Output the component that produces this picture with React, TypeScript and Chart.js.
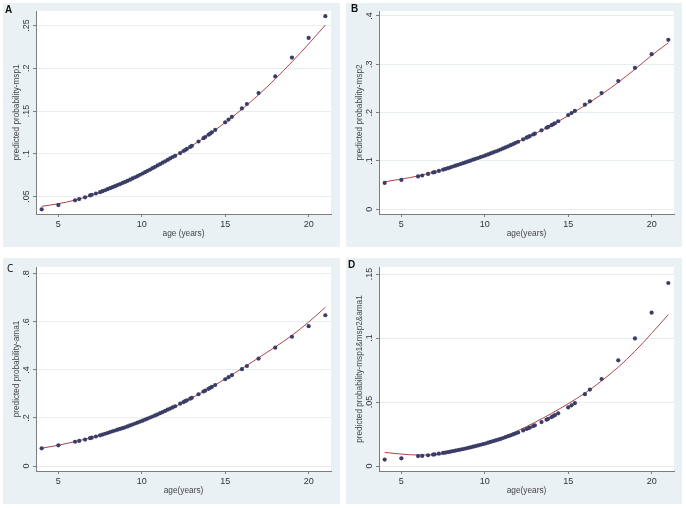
import React, { useEffect, useRef } from 'react';
import { Chart, registerables } from 'chart.js';
Chart.register(...registerables);

// ---------- data ----------
const ages = [4, 5, 6, 6.25, 6.6, 6.9, 7, 7.25, 7.5, 7.65, 7.8, 7.95, 8.1, 8.25, 8.4, 8.55, 8.7, 8.85, 9, 9.15, 9.3, 9.45, 9.6, 9.75, 9.9, 10.05, 10.2, 10.35, 10.5, 10.65, 10.8, 10.95, 11.1, 11.25, 11.4, 11.55, 11.7, 11.85, 12, 12.3, 12.5, 12.6, 12.7, 12.9, 13, 13.4, 13.7, 13.8, 14, 14.1, 14.2, 14.4, 15, 15.2, 15.4, 16, 16.3, 17, 18, 19, 20, 21];

const probMsp1 = [0.035, 0.040, 0.0455, 0.047, 0.049, 0.0512, 0.052, 0.0535, 0.055, 0.0562, 0.0573, 0.0585, 0.0597, 0.0609, 0.0621, 0.0633, 0.0645, 0.0658, 0.0670, 0.0683, 0.0697, 0.0711, 0.0725, 0.0739, 0.0754, 0.0769, 0.0784, 0.0800, 0.0815, 0.0831, 0.0847, 0.0863, 0.0879, 0.0895, 0.0911, 0.0928, 0.0945, 0.0962, 0.0976, 0.1008, 0.1032, 0.1044, 0.1056, 0.1080, 0.1092, 0.1143, 0.1182, 0.1196, 0.1222, 0.1236, 0.1250, 0.1279, 0.1368, 0.1400, 0.1432, 0.1530, 0.1582, 0.1710, 0.1905, 0.2125, 0.2355, 0.2610];

const probMsp2 = [0.0545, 0.0607, 0.0680, 0.0700, 0.0733, 0.0762, 0.0770, 0.0795, 0.0820, 0.0836, 0.0852, 0.0869, 0.0886, 0.0903, 0.0920, 0.0937, 0.0955, 0.0972, 0.0990, 0.1008, 0.1026, 0.1044, 0.1062, 0.1080, 0.1098, 0.1116, 0.1136, 0.1156, 0.1176, 0.1196, 0.1216, 0.1238, 0.1260, 0.1282, 0.1304, 0.1326, 0.1349, 0.1375, 0.1398, 0.1449, 0.1482, 0.1498, 0.1515, 0.1548, 0.1565, 0.1635, 0.1687, 0.1705, 0.1740, 0.1760, 0.1781, 0.1822, 0.1950, 0.1993, 0.2036, 0.2165, 0.2235, 0.2405, 0.2655, 0.2925, 0.3210, 0.3506];

const probAma1 = [0.0736, 0.0860, 0.1010, 0.1045, 0.1100, 0.1160, 0.1180, 0.1230, 0.1280, 0.1311, 0.1343, 0.1375, 0.1415, 0.1448, 0.1480, 0.1513, 0.1545, 0.1578, 0.1610, 0.1650, 0.1690, 0.1730, 0.1770, 0.1810, 0.1850, 0.1890, 0.1933, 0.1977, 0.2020, 0.2063, 0.2107, 0.2150, 0.2200, 0.2248, 0.2296, 0.2345, 0.2394, 0.2442, 0.2490, 0.2595, 0.2665, 0.2700, 0.2735, 0.2805, 0.2840, 0.2990, 0.3103, 0.3140, 0.3215, 0.3255, 0.3295, 0.3375, 0.3615, 0.3699, 0.3783, 0.4035, 0.4167, 0.4475, 0.4930, 0.5385, 0.5825, 0.6280];

const probAll = [0.0050, 0.0060, 0.0078, 0.0079, 0.0084, 0.0089, 0.0091, 0.0096, 0.0102, 0.0105, 0.0109, 0.0113, 0.0117, 0.0121, 0.0125, 0.0129, 0.0133, 0.0137, 0.0142, 0.0146, 0.0151, 0.0156, 0.0161, 0.0166, 0.0171, 0.0176, 0.0182, 0.0188, 0.0194, 0.0200, 0.0206, 0.0212, 0.0219, 0.0226, 0.0233, 0.0240, 0.0247, 0.0254, 0.0262, 0.0278, 0.0289, 0.0295, 0.0300, 0.0312, 0.0318, 0.0343, 0.0362, 0.0369, 0.0382, 0.0390, 0.0397, 0.0412, 0.0458, 0.0474, 0.0491, 0.0561, 0.0597, 0.0680, 0.0826, 0.0997, 0.1198, 0.1430];

const fitAges = [4, 5, 6, 7, 8, 9, 10, 11, 12, 13, 14, 15, 16, 17, 18, 19, 20, 21];
const fitMsp1 = [0.0385, 0.0415, 0.0458, 0.0515, 0.0585, 0.0668, 0.0765, 0.0870, 0.0978, 0.1093, 0.1222, 0.1365, 0.1520, 0.1690, 0.1875, 0.2075, 0.2285, 0.2505];
const fitMsp2 = [0.0570, 0.0625, 0.0690, 0.0775, 0.0878, 0.0990, 0.1112, 0.1248, 0.1398, 0.1565, 0.1740, 0.1938, 0.2148, 0.2378, 0.2628, 0.2898, 0.3185, 0.3445];
const fitAma1 = [0.0740, 0.0865, 0.1015, 0.1185, 0.1385, 0.1610, 0.1865, 0.2155, 0.2480, 0.2835, 0.3215, 0.3625, 0.4060, 0.4505, 0.4960, 0.5440, 0.5995, 0.6610];
const fitAll = [0.0107, 0.0093, 0.0086, 0.0089, 0.0104, 0.0133, 0.0172, 0.0220, 0.0277, 0.0341, 0.0411, 0.0487, 0.0569, 0.0665, 0.0773, 0.0897, 0.1037, 0.1183];

const xTicks = [5, 10, 15, 20];
const yTicksA = [0.05, 0.1, 0.15, 0.2, 0.25];
const yTicksB = [0, 0.1, 0.2, 0.3, 0.4];
const yTicksC = [0, 0.2, 0.4, 0.6, 0.8];
const yTicksD = [0, 0.05, 0.1, 0.15];

// ---------- styles ----------
const FONT = "'Liberation Sans', Arial, sans-serif";
const PANEL_BG = '#eaf1f4';
const GRID = '#e6eef1';
const AXIS = '#7d7d7d';
const TICK = '#333333';
const TITLE = '#444444';
const DOT = '#3b3d66';
const LINE = '#ad444c';

const fmt = (v: number) => (v === 0 ? '0' : String(v).replace(/^0\./, '.'));

type PanelCfg = {
  letter: string; letterX: number; letterY: number; letterFont: string;
  left: number; top: number; w: number; h: number; padTop: number; padRight: number;
  yMin: number; yMax: number; yTicks: number[]; yPad: number;
  dots: number[]; fit: number[]; yTitle: string; xTitle: string;
};

const panels: PanelCfg[] = [
  { letter: 'A', letterX: 2, letterY: 7, letterFont: `bold 10px ${FONT}`, left: 3, top: 3, w: 337, h: 244, padTop: 8, padRight: 9,
    yMin: 0.0295, yMax: 0.267, yTicks: yTicksA, yPad: 0, dots: probMsp1, fit: fitMsp1,
    yTitle: 'predicted probability-msp1', xTitle: 'age (years)' },
  { letter: 'B', letterX: 5, letterY: 6, letterFont: `bold 10px ${FONT}`, left: 346, top: 3, w: 336, h: 244, padTop: 8, padRight: 8,
    yMin: -0.0097, yMax: 0.4103, yTicks: yTicksB, yPad: 2.25, dots: probMsp2, fit: fitMsp2,
    yTitle: 'predicted probability-msp2', xTitle: 'age(years)' },
  { letter: 'C', letterX: 4, letterY: 11, letterFont: `10px 'Noto Sans', sans-serif`, left: 3, top: 258, w: 337, h: 246, padTop: 9, padRight: 9,
    yMin: -0.0208, yMax: 0.829, yTicks: yTicksC, yPad: 2.25, dots: probAma1, fit: fitAma1,
    yTitle: 'predicted probability-ama1', xTitle: 'age(years)' },
  { letter: 'D', letterX: 2, letterY: 7, letterFont: `bold 10px ${FONT}`, left: 346, top: 258, w: 336, h: 246, padTop: 9, padRight: 8,
    yMin: -0.0039, yMax: 0.1555, yTicks: yTicksD, yPad: 0, dots: probAll, fit: fitAll,
    yTitle: 'predicted probability-msp1&msp2&ama1', xTitle: 'age(years)' },
];

function Panel({ p }: { p: PanelCfg }) {
  const ref = useRef<HTMLCanvasElement>(null);
  useEffect(() => {
    const panelPlugin = {
      id: 'panelDecor',
      beforeDraw(chart: any) {
        const { ctx, chartArea: a, width, height } = chart;
        ctx.save();
        ctx.fillStyle = PANEL_BG;
        ctx.fillRect(0, 0, width, height);
        ctx.fillStyle = '#ffffff';
        ctx.fillRect(a.left, a.top, a.right - a.left, a.bottom - a.top);
        ctx.restore();
      },
      afterDraw(chart: any) {
        const { ctx } = chart;
        ctx.save();
        ctx.font = p.letterFont;
        ctx.fillStyle = '#111';
        ctx.textAlign = 'left';
        ctx.textBaseline = 'middle';
        ctx.fillText(p.letter, p.letterX, p.letterY);
        ctx.restore();
      },
    };
    const chart = new Chart(ref.current as HTMLCanvasElement, {
      type: 'scatter',
      data: {
        datasets: [
          {
            type: 'scatter',
            data: ages.map((x, i) => ({ x, y: p.dots[i] })),
            backgroundColor: DOT,
            borderWidth: 0,
            pointRadius: 2.1,
            pointHoverRadius: 2.1,
            order: 0,
          } as any,
          {
            type: 'line',
            data: fitAges.map((x, i) => ({ x, y: p.fit[i] })),
            borderColor: LINE,
            borderWidth: 1,
            pointRadius: 0,
            fill: false,
            showLine: true,
            cubicInterpolationMode: 'monotone',
            order: 1,
          } as any,
        ],
      },
      options: {
        responsive: false,
        animation: false,
        devicePixelRatio: 1,
        events: [],
        layout: { padding: { left: 0, top: p.padTop, right: p.padRight, bottom: 0 } },
        plugins: { legend: { display: false }, tooltip: { enabled: false } },
        scales: {
          x: {
            type: 'linear',
            min: 3.66,
            max: 21.34,
            afterBuildTicks: (s: any) => { s.ticks = xTicks.map((v) => ({ value: v })); },
            afterFit: (s: any) => { s.height = 33; },
            ticks: { font: { family: FONT, size: 9 }, color: TICK, padding: 2, autoSkip: false, maxRotation: 0, callback: (v: any) => String(v) },
            grid: { drawOnChartArea: false, drawTicks: true, tickLength: 3, tickColor: AXIS, tickWidth: 1 },
            border: { display: true, color: AXIS, width: 1 },
            title: { display: true, text: p.xTitle, font: { family: FONT, size: 8.3 }, color: TITLE, padding: { top: 0, bottom: 8.5 } },
          },
          y: {
            type: 'linear',
            min: p.yMin,
            max: p.yMax,
            afterBuildTicks: (s: any) => { s.ticks = p.yTicks.map((v) => ({ value: v })); },
            afterFit: (s: any) => { s.width = 33; },
            ticks: { font: { family: FONT, size: 9 }, color: TICK, padding: p.yPad, autoSkip: false, minRotation: 90, maxRotation: 90, crossAlign: 'center', callback: (v: any) => fmt(Number(v)) },
            grid: { drawOnChartArea: true, color: GRID, lineWidth: 1, drawTicks: true, tickLength: 3, tickColor: AXIS, tickWidth: 1 },
            border: { display: true, color: AXIS, width: 1 },
            title: { display: true, text: p.yTitle, font: { family: FONT, size: 8.2 }, color: TITLE, padding: { top: 9, bottom: 0 } },
          },
        },
      } as any,
      plugins: [panelPlugin],
    });
    return () => chart.destroy();
  }, []);
  return (
    <canvas
      ref={ref}
      width={p.w}
      height={p.h}
      style={{ position: 'absolute', left: p.left, top: p.top, width: p.w, height: p.h }}
    />
  );
}

export default function App() {
  return (
    <div style={{ position: 'fixed', left: 0, top: 0, width: 686, height: 508, background: '#ffffff', overflow: 'hidden' }}>
      {panels.map((p) => (
        <Panel key={p.letter} p={p} />
      ))}
    </div>
  );
}
